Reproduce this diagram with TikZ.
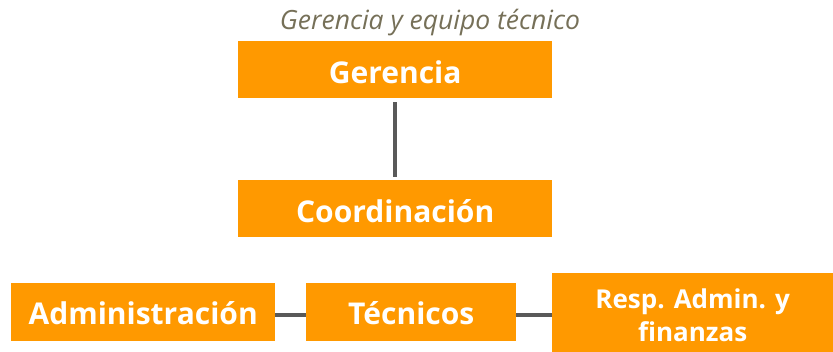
\documentclass[tikz,border=0pt]{standalone}
\usepackage{fontspec}
\setmainfont{Open Sans}
\begin{document}
\begin{tikzpicture}[x=1pt,y=-1pt,
  box/.style={fill=boxorange,draw=none,text=white,font=\bfseries\fontsize{30}{32}\selectfont,inner sep=0pt,anchor=north west,text height=27pt,text depth=0pt},
  conn/.style={draw=connGray,line width=4pt}]
\definecolor{boxorange}{HTML}{FF9900}
\definecolor{connGray}{HTML}{595959}
\definecolor{titleCol}{HTML}{767058}
\useasboundingbox (0,0) rectangle (833,351);
\node[font=\itshape\fontsize{26.5}{28}\selectfont,text=titleCol] (title) at (430,23) {Gerencia y equipo técnico};
\node[box,minimum width=314pt,minimum height=57pt] (ger) at (238,41) {Gerencia};
\node[box,minimum width=314pt,minimum height=57pt] (coo) at (238,180) {Coordinación};
\node[box,minimum width=264pt,minimum height=58pt,text height=24pt] (adm) at (11,283) {Administración};
\node[box,minimum width=210pt,minimum height=58pt,text height=24pt] (tec) at (306,283) {Técnicos};
\node[box,minimum width=281pt,minimum height=84pt,align=center,text height=,text depth=,font=\bfseries\fontsize{26}{33}\selectfont] (res) at (552,273) {Resp. Admin. y\\finanzas};
\draw[conn] ([yshift=-4pt]ger.south) -- ([yshift=3pt]coo.north);
\draw[conn] (adm.east |- 0,315) -- (tec.west |- 0,315);
\draw[conn] (tec.east |- 0,315) -- (res.west |- 0,315);
\end{tikzpicture}
\end{document}
